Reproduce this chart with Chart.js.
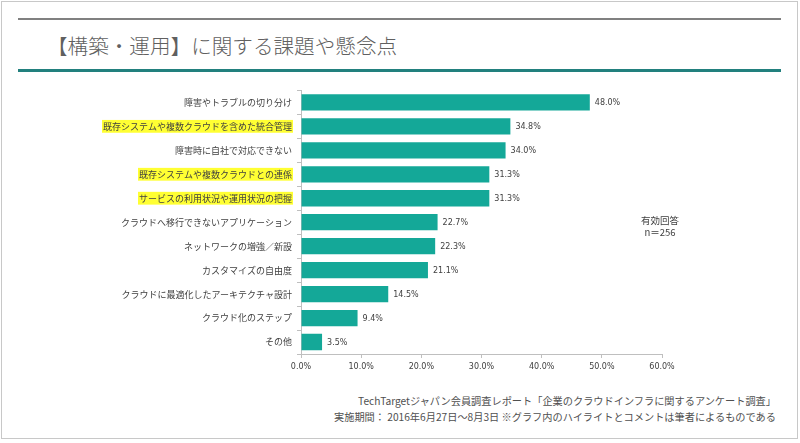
<!DOCTYPE html>
<html>
<head>
<meta charset="utf-8">
<script src="https://cdn.jsdelivr.net/npm/chart.js@4"></script>
<style>
  html, body { margin: 0; padding: 0; background: #fff; }
  body { width: 800px; height: 443px; position: relative; overflow: hidden; font-family: "Noto Sans CJK JP", "Noto Sans", sans-serif; }
  .frame { position: absolute; left: 1px; top: 1px; width: 795px; height: 436px; border: 1px solid #c8c8c8; }
  .rule-top { position: absolute; left: 18px; top: 18px; width: 763px; height: 2px; background: #808080; }
  .rule-teal { position: absolute; left: 18px; top: 69px; width: 763px; height: 3px; background: #22807e; }
  .title { position: absolute; left: 47px; top: 31px; font-size: 20.6px; font-weight: 300; line-height: 28px; color: #606060; white-space: nowrap; }
  .note { position: absolute; left: 620px; top: 215px; width: 80px; text-align: center; font-size: 9.5px; line-height: 11.5px; color: #404040; }
  .footer { position: absolute; right: 24px; top: 393px; text-align: right; font-size: 10.2px; line-height: 15.5px; color: #505050; white-space: nowrap; }
  #chart { position: absolute; left: 0; top: 80px; }
</style>
</head>
<body>
<div class="frame"></div>
<div class="rule-top"></div>
<div class="title">【構築・運用】に関する課題や懸念点</div>
<div class="rule-teal"></div>
<canvas id="chart" width="800" height="304"></canvas>
<div class="note">有効回答<br>n＝256</div>
<div class="footer">TechTargetジャパン会員調査レポート「企業のクラウドインフラに関するアンケート調査」<br>実施期間： 2016年6月27日～8月3日 ※グラフ内のハイライトとコメントは筆者によるものである</div>
<script>
  // Data
  const categories = [
    "障害やトラブルの切り分け",
    "既存システムや複数クラウドを含めた統合管理",
    "障害時に自社で対応できない",
    "既存システムや複数クラウドとの連係",
    "サービスの利用状況や運用状況の把握",
    "クラウドへ移行できないアプリケーション",
    "ネットワークの増強／新設",
    "カスタマイズの自由度",
    "クラウドに最適化したアーキテクチャ設計",
    "クラウド化のステップ",
    "その他"
  ];
  const values = [48.0, 34.8, 34.0, 31.3, 31.3, 22.7, 22.3, 21.1, 14.5, 9.4, 3.5];
  const highlighted = [false, true, false, true, true, false, false, false, false, false, false];
  const xTicks = [0, 10, 20, 30, 40, 50, 60];

  // value labels at the end of each bar
  const valueLabels = {
    id: "valueLabels",
    afterDatasetsDraw(chart) {
      const ctx = chart.ctx;
      const meta = chart.getDatasetMeta(0);
      ctx.save();
      ctx.font = "8px 'DejaVu Sans'";
      ctx.fillStyle = "#404040";
      ctx.textAlign = "left";
      ctx.textBaseline = "middle";
      meta.data.forEach((bar, i) => {
        ctx.fillText(values[i].toFixed(1) + "%", bar.x + 5, bar.y + 0.5);
      });
      ctx.restore();
    }
  };

  new Chart(document.getElementById("chart"), {
    type: "bar",
    data: {
      labels: categories,
      datasets: [{
        data: values,
        backgroundColor: "#14a898",
        borderWidth: 0,
        barPercentage: 0.68,
        categoryPercentage: 1
      }]
    },
    options: {
      indexAxis: "y",
      responsive: false,
      animation: false,
      layout: { padding: { top: 9.5, right: 138, bottom: 0, left: 0 } },
      plugins: { legend: { display: false }, tooltip: { enabled: false } },
      scales: {
        x: {
          min: 0,
          max: 60,
          afterBuildTicks: scale => { scale.ticks = xTicks.map(v => ({ value: v })); },
          afterFit: scale => { scale.height = 30; },
          grid: { drawOnChartArea: false, tickLength: 4, color: "#bfbfbf" },
          border: { color: "#bfbfbf" },
          ticks: {
            padding: 4,
            color: "#404040",
            font: { family: "DejaVu Sans", size: 8 },
            callback: v => Number(v).toFixed(1) + "%"
          }
        },
        y: {
          afterFit: scale => { scale.width = 301; },
          grid: { drawOnChartArea: false, tickLength: 4, color: "#bfbfbf", offset: true },
          border: { color: "#bfbfbf" },
          ticks: {
            autoSkip: false,
            padding: 5,
            color: "#404040",
            font: { family: "Noto Sans CJK JP", size: 9 },
            showLabelBackdrop: ctx => highlighted[ctx.index],
            backdropColor: "#ffff33",
            backdropPadding: { top: 1, bottom: 1, left: 1, right: 1 }
          }
        }
      }
    },
    plugins: [valueLabels]
  });
</script>
</body>
</html>
